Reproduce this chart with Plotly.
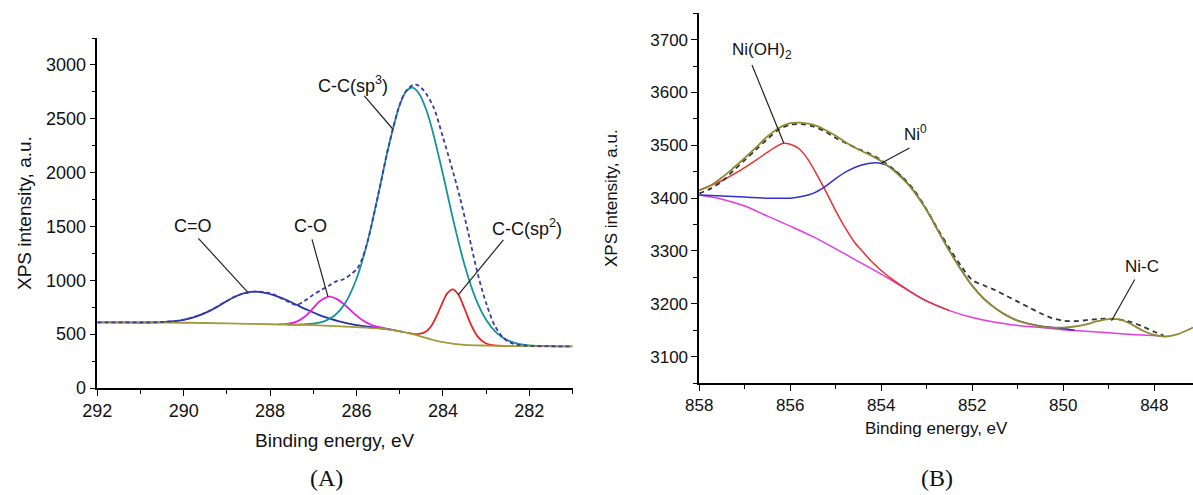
import plotly.graph_objects as go

# ---------------- Panel A : C 1s ----------------
a_base_e = [292, 291, 290, 289, 288, 287, 286.5, 286, 285.5, 285.25, 285, 284.75, 284.5, 284.25, 284, 283.75, 283.5, 283, 282.5, 282, 281.5, 281]
a_base_i = [609, 608, 606, 600, 592, 583, 575, 565, 553, 543, 528, 505, 478, 448, 425, 410, 401, 394, 390, 388, 387, 386]

a_co2_e = [292, 291.5, 291.0, 290.5, 290.0, 289.75, 289.5, 289.25, 289.0, 288.75, 288.55, 288.36, 288.15, 287.9, 287.65, 287.4, 287.15, 286.9, 286.65, 286.4, 286.0, 285.6, 285.2, 284.9]
a_co2_i = [609, 609, 608, 612, 633, 658, 697, 748, 808, 859, 886, 895, 886, 861, 822, 775, 728, 684, 648, 618, 584, 562, 542, 518]

a_co_e = [287.8, 287.6, 287.4, 287.2, 287.0, 286.85, 286.63, 286.45, 286.25, 286.05, 285.85, 285.65, 285.45, 285.25]
a_co_i = [591, 595, 614, 662, 743, 805, 848, 825, 764, 690, 627, 585, 562, 545]

a_sp3_e = [287.6, 287.0, 286.75, 286.5, 286.25, 286.0, 285.75, 285.5, 285.25, 285.0, 284.85, 284.7, 284.55, 284.4, 284.25, 284.0, 283.75, 283.5, 283.25, 283.0, 282.75, 282.5, 282.25, 282.0, 281.5, 281.0]
a_sp3_i = [587, 597, 619, 676, 796, 1014, 1350, 1788, 2254, 2628, 2755, 2790, 2733, 2600, 2403, 1987, 1541, 1145, 840, 634, 509, 442, 410, 396, 388, 386]

a_sp2_e = [284.8, 284.6, 284.4, 284.25, 284.1, 284.0, 283.9, 283.77, 283.65, 283.5, 283.35, 283.2, 283.0, 282.8, 282.6]
a_sp2_i = [511, 500, 522, 588, 710, 801, 879, 916, 872, 738, 588, 480, 413, 395, 391]

a_exp_e = [292, 291, 290.5, 290, 289.5, 289, 288.75, 288.36, 288.0, 287.75, 287.55, 287.39, 287.2, 287.0, 286.8, 286.64, 286.5, 286.3, 286.15, 285.98, 285.88, 285.75, 285.5, 285.25, 285.0, 284.85, 284.64, 284.45, 284.22, 284.0, 283.76, 283.6, 283.4, 283.2, 283.0, 282.8, 282.6, 282.4, 282.2, 282.0, 281.5, 281.0]
a_exp_i = [609, 609, 613, 634, 698, 808, 860, 895, 880, 835, 795, 770, 810, 865, 915, 950, 985, 1010, 1050, 1110, 1190, 1350, 1790, 2256, 2630, 2760, 2820, 2765, 2610, 2330, 2000, 1760, 1420, 1070, 790, 580, 465, 415, 398, 392, 388, 387]

# ---------------- Panel B : Ni 2p ----------------
b_base_e = [858, 857.5, 857, 856.5, 856, 855.5, 855, 854.5, 854, 853.5, 853, 852.5, 852, 851.5, 851, 850.5, 850, 849.5, 849, 848.5, 848, 847.75]
b_base_i = [3406, 3398, 3385, 3366, 3347, 3327, 3304, 3280, 3256, 3230, 3205, 3187, 3174, 3165, 3159, 3155, 3151, 3148, 3145, 3142, 3140, 3138]

b_oh_e = [858, 857.75, 857.5, 857.25, 857, 856.75, 856.5, 856.3, 856.15, 856, 855.8, 855.6, 855.4, 855.2, 855, 854.8, 854.6, 854.4, 854.2, 854, 853.8, 853.5, 853.25, 853, 852.5]
b_oh_i = [3415, 3424, 3433, 3445, 3458, 3472, 3487, 3498, 3504, 3502, 3493, 3472, 3442, 3410, 3376, 3345, 3318, 3298, 3279, 3263, 3249, 3231, 3217, 3205, 3187]

b_ni0_e = [858, 857.5, 857, 856.5, 856, 855.75, 855.5, 855.25, 855, 854.75, 854.5, 854.25, 854.1, 853.9, 853.7, 853.5, 853.3, 853, 852.75, 852.5, 852.25, 852, 851.75, 851.5, 851.25, 851, 850.5, 850, 849.75]
b_ni0_i = [3406, 3404, 3402, 3400, 3400, 3403, 3409, 3421, 3437, 3451, 3461, 3466, 3467, 3463, 3452, 3436, 3415, 3377, 3338, 3300, 3265, 3234, 3210, 3192, 3178, 3168, 3158, 3153, 3150]

b_fit_e = [858, 857.75, 857.5, 857.25, 857, 856.75, 856.5, 856.25, 856, 855.8, 855.5, 855.25, 855, 854.75, 854.5, 854.25, 854, 853.75, 853.5, 853.3, 853, 852.75, 852.5, 852.25, 852, 851.75, 851.5, 851.25, 851, 850.75, 850.5, 850.25, 850, 849.75, 849.5, 849.25, 849, 848.75, 848.5, 848.25, 848, 847.75, 847.5, 847.15]
b_fit_i = [3415, 3424, 3439, 3457, 3476, 3496, 3517, 3533, 3542, 3543, 3539, 3530, 3518, 3504, 3492, 3482, 3470, 3454, 3434, 3415, 3377, 3338, 3300, 3265, 3234, 3210, 3192, 3178, 3168, 3162, 3157, 3155, 3155, 3157, 3161, 3167, 3171, 3170, 3161, 3149, 3141, 3138, 3142, 3155]

b_exp_e = [858, 857.75, 857.5, 857.25, 857, 856.75, 856.5, 856.25, 856, 855.75, 855.5, 855.25, 855, 854.75, 854.5, 854.25, 854, 853.75, 853.5, 853.25, 853, 852.75, 852.5, 852.25, 852, 851.75, 851.5, 851.25, 851, 850.75, 850.5, 850.25, 850, 849.75, 849.5, 849.25, 849, 848.75, 848.5, 848.25, 848, 847.8]
b_exp_i = [3409, 3418, 3432, 3452, 3472, 3492, 3512, 3530, 3539, 3540, 3536, 3527, 3514, 3503, 3493, 3484, 3472, 3456, 3437, 3412, 3378, 3340, 3305, 3272, 3245, 3235, 3226, 3215, 3204, 3193, 3182, 3173, 3168, 3167, 3169, 3171, 3172, 3170, 3165, 3157, 3147, 3140]

# labels: (text, text_x, text_y, leader_start_x, leader_start_y, tip_x, tip_y)
a_labels = [
    ("C=O", 289.79, 1500, 289.66, 1390, 288.52, 890),
    ("C-O", 287.06, 1500, 287.03, 1380, 286.66, 846),
    ("C-C(sp<sup>3</sup>)", 286.07, 2820, 285.82, 2712, 285.16, 2405),
    ("C-C(sp<sup>2</sup>)", 282.05, 1486, 282.6, 1375, 283.64, 868),
]
b_labels = [
    ("Ni(OH)<sub>2</sub>", 856.63, 3678, 856.84, 3652, 856.14, 3504),
    ("Ni<sup>0</sup>", 853.24, 3523, 853.38, 3495, 854.0, 3466),
    ("Ni-C", 848.26, 3270, 848.43, 3246, 848.94, 3168),
]

W, H = 1193, 495
SANS = "Liberation Sans, Arial, sans-serif"

def fx(px):
    return px / W

def fy(py):
    return 1 - py / H

fig = go.Figure()

def line(x, y, color, xa, ya, width=1.8, dash=None):
    fig.add_trace(go.Scatter(
        x=x, y=y, mode="lines", xaxis=xa, yaxis=ya, showlegend=False,
        line=dict(color=color, width=width, dash=dash, shape="spline", smoothing=0.9),
        hoverinfo="skip"))

# Panel A traces
line(a_co2_e, a_co2_i, "#2432a8", "x", "y")
line(a_co_e, a_co_i, "#e81ce6", "x", "y")
line(a_sp3_e, a_sp3_i, "#17939b", "x", "y")
line(a_sp2_e, a_sp2_i, "#ee2424", "x", "y")
line(a_base_e, a_base_i, "#a39b3a", "x", "y")
line(a_exp_e, a_exp_i, "#3c3aa8", "x", "y", width=1.8, dash="4px,3px")

# Panel B traces
line(b_base_e, b_base_i, "#e23ce2", "x2", "y2", width=1.5)
line(b_oh_e, b_oh_i, "#e63232", "x2", "y2", width=1.5)
line(b_ni0_e, b_ni0_i, "#2f2fd0", "x2", "y2", width=1.5)
line(b_exp_e, b_exp_i, "#333333", "x2", "y2", width=1.8, dash="5px,4px")
line(b_fit_e, b_fit_i, "#8f8a2e", "x2", "y2", width=1.8)

axis_common = dict(showgrid=False, zeroline=False, showline=True, linecolor="black",
                   linewidth=1.5, ticks="outside", ticklen=6, tickwidth=1.3,
                   tickcolor="black", autorange=False, automargin=False)

fig.update_layout(
    width=W, height=H, autosize=False,
    margin=dict(l=0, r=0, t=0, b=0, pad=0),
    paper_bgcolor="white", plot_bgcolor="white",
    xaxis=dict(domain=[fx(97.3), fx(572.5)], range=[292, 281], anchor="y",
               tick0=292, dtick=2, tickfont=dict(family=SANS, size=18, color="#111"),
               minor=dict(dtick=1, tick0=292, ticks="outside", ticklen=4, tickcolor="black", tickwidth=1.3),
               **axis_common),
    yaxis=dict(domain=[fy(388), fy(38)], range=[0, 3250], anchor="x",
               tick0=0, dtick=500, tickfont=dict(family=SANS, size=18, color="#111"),
               minor=dict(dtick=250, tick0=0, ticks="outside", ticklen=4, tickcolor="black", tickwidth=1.3),
               **axis_common),
    xaxis2=dict(domain=[fx(699.2), 1.0], range=[858, 847.15], anchor="y2",
                tick0=858, dtick=2, tickfont=dict(family=SANS, size=17, color="#111"),
                minor=dict(dtick=1, tick0=858, ticks="outside", ticklen=4, tickcolor="black", tickwidth=1.3),
                **axis_common),
    yaxis2=dict(domain=[fy(383), fy(13.3)], range=[3050, 3750], anchor="x2",
                tick0=3100, dtick=100, tickfont=dict(family=SANS, size=17, color="#111"),
                minor=dict(dtick=50, tick0=3050, ticks="outside", ticklen=4, tickcolor="black", tickwidth=1.3),
                **axis_common),
)

ann = []
shapes = []
for labels, xr, yr, size in ((a_labels, "x", "y", 18), (b_labels, "x2", "y2", 17)):
    for t, tx, ty, sx, sy, px, py in labels:
        ann.append(dict(x=tx, y=ty, xref=xr, yref=yr, text=t, showarrow=False,
                        xanchor="center", yanchor="middle",
                        font=dict(family=SANS, size=size, color="#111")))
        shapes.append(dict(type="line", xref=xr, yref=yr, x0=sx, y0=sy, x1=px, y1=py,
                           line=dict(color="#222", width=1.2)))

def txt(s, px, py, size, family=SANS, angle=0):
    ann.append(dict(x=fx(px), y=fy(py), xref="paper", yref="paper", text=s, showarrow=False,
                    textangle=angle, xanchor="center", yanchor="middle",
                    font=dict(family=family, size=size, color="#111")))

txt("XPS intensity, a.u.", 24, 213, 19, angle=-90)
txt("Binding energy, eV", 334, 440, 19)
txt("(A)", 326, 478, 24, family="Liberation Serif, Times New Roman, serif")
txt("XPS intensity, a.u.", 611, 198, 17, angle=-90)
txt("Binding energy, eV", 936, 428, 17)
txt("(B)", 937, 478, 24, family="Liberation Serif, Times New Roman, serif")

fig.update_layout(annotations=ann, shapes=shapes)
fig.write_html("out.html",
               config={"displayModeBar": False},
               post_script="document.body.style.margin='0px';document.body.style.overflow='hidden';")
